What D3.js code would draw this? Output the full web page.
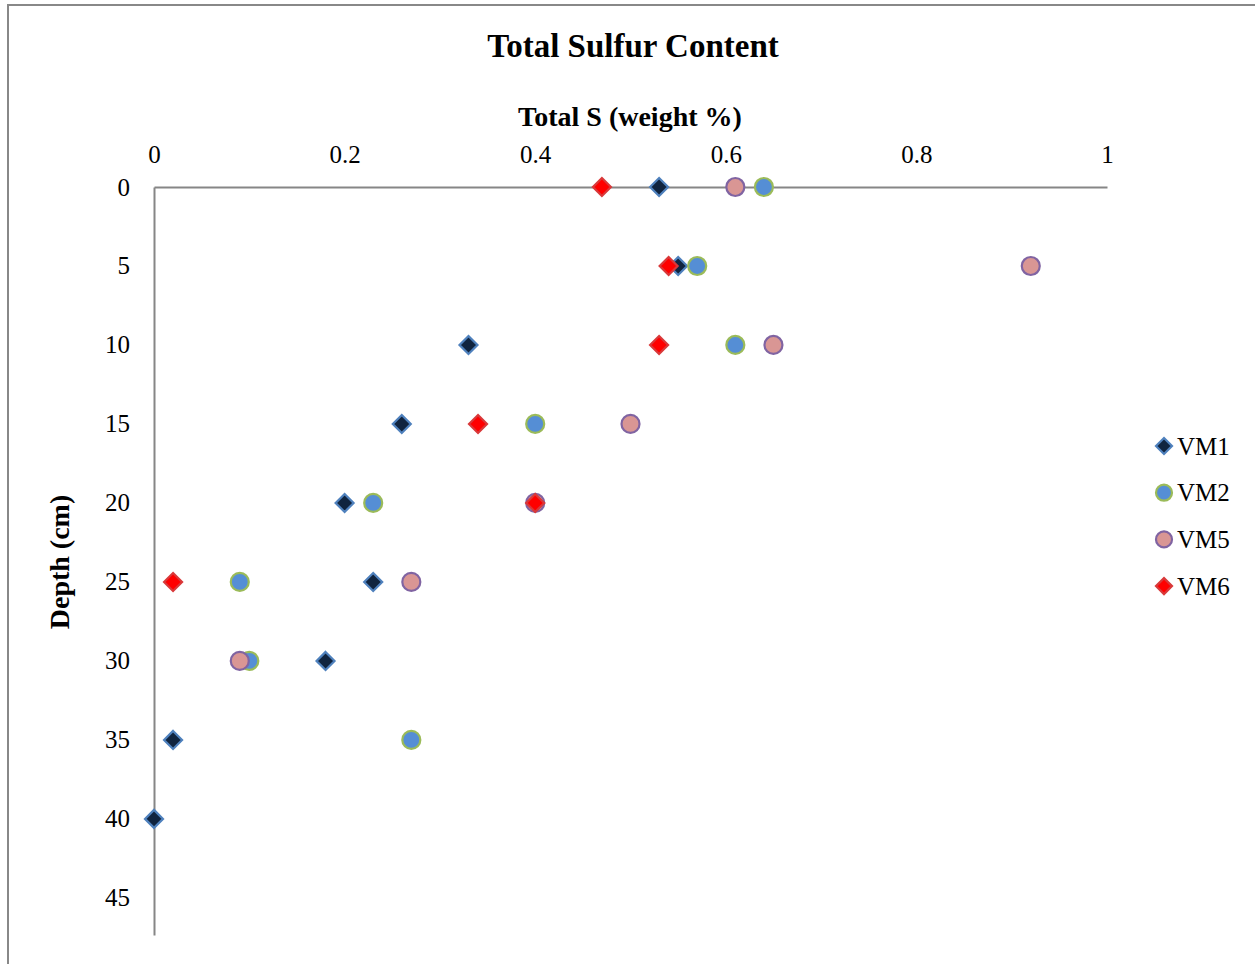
<!DOCTYPE html>
<html>
<head>
<meta charset="utf-8">
<script src="https://cdn.jsdelivr.net/npm/d3@7"></script>
<style>
  body { margin: 0; background: #fff; }
  svg text { font-family: "Liberation Serif", "DejaVu Serif", serif; fill: #000; }
</style>
</head>
<body>
<div class="chart"></div>
<script>
// depth (cm) and total S (weight %) per core
var depths = [0, 5, 10, 15, 20, 25, 30, 35, 40];
var vm1 = [0.53, 0.55, 0.33, 0.26, 0.20, 0.23, 0.18, 0.02, 0.00];
var vm2 = [0.64, 0.57, 0.61, 0.40, 0.23, 0.09, 0.10, 0.27];
var vm5 = [0.61, 0.92, 0.65, 0.50, 0.40, 0.27, 0.09];
var vm6 = [0.47, 0.54, 0.53, 0.34, 0.40, 0.02];
var xTicks = [0, 0.2, 0.4, 0.6, 0.8, 1];
var yTicks = [0, 5, 10, 15, 20, 25, 30, 35, 40, 45];

var series = [
  {name: "VM1", vals: vm1, shape: "diamond", fill: "#10243f", stroke: "#4f81bd"},
  {name: "VM2", vals: vm2, shape: "circle", fill: "#558ed5", stroke: "#9bbb59"},
  {name: "VM5", vals: vm5, shape: "circle", fill: "#d99694", stroke: "#8064a2"},
  {name: "VM6", vals: vm6, shape: "diamond", fill: "#ff0000", stroke: "#d9393a"}
];

var width = 1255, height = 964;

var svg = d3.select(".chart").append("svg")
    .attr("width", width)
    .attr("height", height);

// outer chart frame (cut off at right and bottom)
svg.append("path")
    .attr("d", "M8," + (height + 2) + "V5H" + (width + 2))
    .attr("fill", "none")
    .attr("stroke", "#888")
    .attr("stroke-width", 2);

var x = d3.scaleLinear().domain([0, 1]).range([154, 1107]);
var y = d3.scaleLinear().domain([0, 47.35]).range([187, 935]);

var xAxis = d3.axisTop(x).tickValues(xTicks).tickSize(0).tickPadding(24)
    .tickFormat(function(d) { return d === 0 || d === 1 ? d : d3.format(".1f")(d); });
var yAxis = d3.axisLeft(y).tickValues(yTicks).tickSize(0).tickPadding(24);

svg.append("g")
    .attr("class", "x axis")
    .attr("transform", "translate(0," + y(0) + ")")
    .call(xAxis);

svg.append("g")
    .attr("class", "y axis")
    .attr("transform", "translate(" + x(0) + ",0)")
    .call(yAxis);

svg.selectAll(".axis .domain")
    .attr("stroke", "#868686")
    .attr("stroke-width", 2);
svg.selectAll(".axis text")
    .style("font-size", "25px")
    .style("font-family", "'Liberation Serif', serif");

svg.append("text")
    .attr("x", 633)
    .attr("y", 57)
    .style("text-anchor", "middle")
    .style("font-size", "33px")
    .style("font-weight", "bold")
    .text("Total Sulfur Content");

svg.append("text")
    .attr("x", 630)
    .attr("y", 126)
    .style("text-anchor", "middle")
    .style("font-size", "28px")
    .style("font-weight", "bold")
    .text("Total S (weight %)");

svg.append("text")
    .attr("transform", "translate(69,562) rotate(-90)")
    .style("text-anchor", "middle")
    .style("font-size", "28px")
    .style("font-weight", "bold")
    .text("Depth (cm)");

function marker(sel, s, r) {
  if (s.shape === "circle") {
    sel.append("circle").attr("r", r);
  } else {
    sel.append("path").attr("d", "M0," + -r + "L" + r + ",0L0," + r + "L" + -r + ",0Z");
  }
  sel.selectAll("circle, path")
     .attr("fill", s.fill)
     .attr("stroke", s.stroke)
     .attr("stroke-width", 2.2);
}

series.forEach(function(s) {
  var pts = s.vals.map(function(v, i) { return [v, depths[i]]; });
  svg.append("g").attr("class", "series " + s.name)
    .selectAll("g").data(pts).enter()
    .append("g")
    .attr("transform", function(d) { return "translate(" + x(d[0]) + "," + y(d[1]) + ")"; })
    .each(function() { marker(d3.select(this), s, 9); });
});

var legend = svg.append("g").attr("class", "legend");
series.forEach(function(s, i) {
  var g = legend.append("g")
      .attr("transform", "translate(1164," + (446 + i * 46.7) + ")");
  marker(g, s, 8);
  g.append("text")
      .attr("x", 13)
      .attr("dy", "0.35em")
      .style("font-size", "25px")
      .text(s.name);
});
</script>
</body>
</html>
